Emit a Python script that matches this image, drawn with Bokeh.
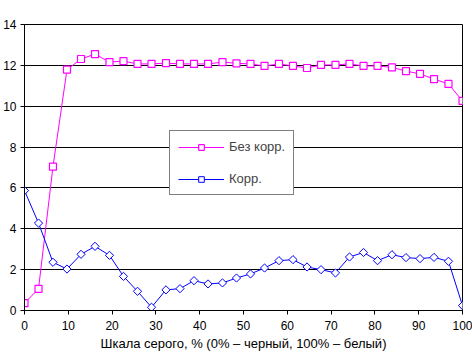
import numpy as np
from bokeh.plotting import figure
from bokeh.models import Legend, LegendItem, Label, FixedTicker
from bokeh.embed import file_html
from bokeh.resources import INLINE

# grey scale steps, % (32 steps)
gray_pct = [0, 3.2, 6.5, 9.7, 12.9, 16.1, 19.4, 22.6, 25.8, 29.0, 32.3, 35.5,
            38.7, 41.9, 45.2, 48.4, 51.6, 54.8, 58.1, 61.3, 64.5, 67.7, 71.0,
            74.2, 77.4, 80.6, 83.9, 87.1, 90.3, 93.5, 96.8, 100]
de_uncorr = [0.36, 1.06, 7.04, 11.79, 12.31, 12.55, 12.16, 12.21, 12.07, 12.07,
             12.11, 12.07, 12.07, 12.07, 12.16, 12.10, 12.07, 11.97, 12.07,
             11.97, 11.87, 12.02, 12.02, 12.07, 11.97, 11.97, 11.90, 11.72,
             11.58, 11.33, 11.09, 10.26]
de_corr = [5.87, 4.28, 2.36, 2.03, 2.75, 3.14, 2.70, 1.67, 0.94, 0.16, 1.01,
           1.07, 1.46, 1.30, 1.35, 1.59, 1.79, 2.08, 2.44, 2.49, 2.13, 2.00,
           1.84, 2.62, 2.84, 2.44, 2.73, 2.59, 2.54, 2.60, 2.41, 0.24]
x_ticks = [0, 10, 20, 30, 40, 50, 60, 70, 80, 90, 100]
y_ticks = [0, 2, 4, 6, 8, 10, 12, 14]
series_names = ["Без корр.", "Корр."]
x_title = "Шкала серого, % (0% – черный, 100% – белый)"
y_title = "ΔE (CIEDE2000)"

FONT = "Liberation Sans"
FS = "12px"
FS2 = "13px"

p = figure(width=472, height=353, x_range=(0, 100), y_range=(0, 14),
           output_backend="svg", toolbar_location=None,
           min_border_left=23, min_border_right=10, min_border_top=24,
           min_border_bottom=42)
p.background_fill_color = "white"
p.border_fill_color = "white"
p.outline_line_color = "black"
p.outline_line_width = 1

p.xgrid.visible = False
p.ygrid.ticker = FixedTicker(ticks=y_ticks)
p.ygrid.grid_line_color = "black"
p.ygrid.grid_line_width = 1

for ax in (p.xaxis[0], p.yaxis[0]):
    ax.axis_line_color = "black"
    ax.major_tick_line_color = "black"
    ax.major_tick_in = 0
    ax.major_tick_out = 4
    ax.minor_tick_line_color = None
    ax.major_label_text_font = FONT
    ax.major_label_text_font_size = FS
    ax.major_label_text_color = "black"

p.xaxis.ticker = FixedTicker(ticks=x_ticks)
p.yaxis.ticker = FixedTicker(ticks=y_ticks)
p.xaxis.major_label_standoff = 6
p.yaxis.major_label_standoff = 4
p.xaxis.axis_label = x_title
p.xaxis.axis_label_text_font = FONT
p.xaxis.axis_label_text_font_size = FS2
p.xaxis.axis_label_text_font_style = "normal"
p.xaxis.axis_label_text_color = "black"
p.xaxis.axis_label_standoff = 3

l1 = p.line(gray_pct, de_uncorr, line_color="#FF00FF", line_width=1)
s1 = p.scatter(gray_pct, de_uncorr, marker="square", size=7,
               line_color="#FF00FF", fill_color="white", line_width=1.2)
l2 = p.line(gray_pct, de_corr, line_color="#0000FF", line_width=1)
s2 = p.scatter(gray_pct, de_corr, marker="square", angle=np.pi / 4, size=5.8,
               line_color="#0000FF", fill_color="white", line_width=1)

legend = Legend(items=[LegendItem(label=series_names[0], renderers=[l1, s1]),
                       LegendItem(label=series_names[1], renderers=[l2, s2])],
                location=(145, 115), orientation="vertical",
                border_line_color="black", border_line_width=1,
                background_fill_color="white", background_fill_alpha=1,
                padding=8, spacing=17, glyph_height=14, glyph_width=46,
                label_standoff=5, label_text_font=FONT,
                label_text_font_size=FS2, label_height=14, margin=0)
p.add_layout(legend, "center")

p.add_layout(Label(x=-5.2, y=14.73, text=y_title, text_font=FONT,
                   text_font_size=FS2, text_baseline="middle",
                   text_align="left", text_color="black"))

open("out.html", "w").write(file_html(p, INLINE))
